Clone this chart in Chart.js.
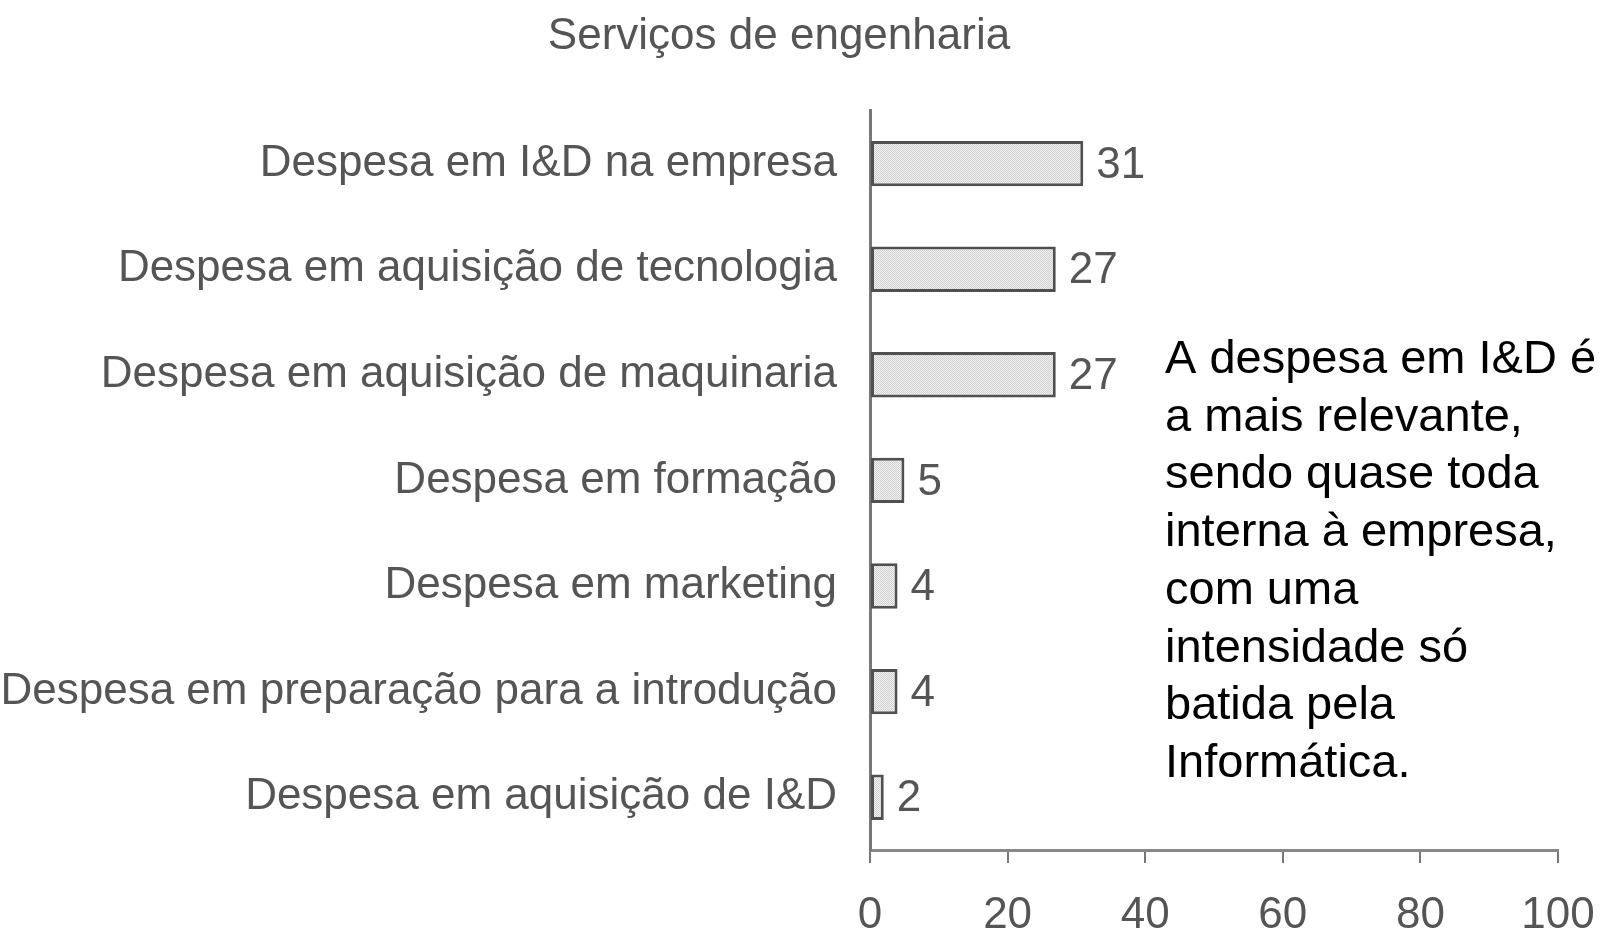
<!DOCTYPE html>
<html>
<head>
<meta charset="utf-8">
<script src="https://cdn.jsdelivr.net/npm/chart.js@4"></script>
<style>
  html, body { margin: 0; padding: 0; background: #fff; }
  #wrap { width: 1614px; height: 933px; }
</style>
</head>
<body>
<div id="wrap"><canvas id="servicos"></canvas></div>
<script>
const title = 'Serviços de engenharia';
const categories = [
  'Despesa em I&D na empresa',
  'Despesa em aquisição de tecnologia',
  'Despesa em aquisição de maquinaria',
  'Despesa em formação',
  'Despesa em marketing',
  'Despesa em preparação para a introdução',
  'Despesa em aquisição de I&D'
];
const values = [31, 27, 27, 5, 4, 4, 2];
const xTicks = [0, 20, 40, 60, 80, 100];
const note = [
  'A despesa em I&D é',
  'a mais relevante,',
  'sendo quase toda',
  'interna à empresa,',
  'com uma',
  'intensidade só',
  'batida pela',
  'Informática.'
];

const grey = '#555';
const font = 'Liberation Sans, Arial, sans-serif';

// dotted fill like the printed bars
function dotPattern() {
  const c = document.createElement('canvas');
  c.width = 2; c.height = 2;
  const g = c.getContext('2d');
  g.fillStyle = '#efefef'; g.fillRect(0, 0, 2, 2);
  g.fillStyle = '#d2d2d2'; g.fillRect(0, 0, 1, 1); g.fillRect(1, 1, 1, 1);
  return g.createPattern(c, 'repeat');
}

const valueLabels = {
  id: 'valueLabels',
  afterDatasetsDraw(chart) {
    const ctx = chart.ctx;
    const meta = chart.getDatasetMeta(0);
    ctx.save();
    ctx.font = '44px ' + font;
    ctx.fillStyle = grey;
    ctx.textAlign = 'left';
    ctx.textBaseline = 'middle';
    meta.data.forEach((bar, i) => {
      ctx.fillText(String(values[i]), bar.x + 13, bar.y + 2);
    });
    ctx.restore();
  }
};

const noteText = {
  id: 'noteText',
  afterDraw(chart) {
    const ctx = chart.ctx;
    ctx.save();
    ctx.font = '47px ' + font;
    ctx.fillStyle = '#000';
    ctx.textAlign = 'left';
    ctx.textBaseline = 'alphabetic';
    note.forEach((line, i) => ctx.fillText(line, 1165, 373 + i * 57.7));
    ctx.restore();
  }
};

new Chart(document.getElementById('servicos'), {
  type: 'bar',
  data: {
    labels: categories,
    datasets: [{
      data: values,
      backgroundColor: dotPattern(),
      borderColor: '#505050',
      borderWidth: 3,
      borderSkipped: false,
      categoryPercentage: 1,
      barPercentage: 0.43
    }]
  },
  options: {
    indexAxis: 'y',
    responsive: true,
    maintainAspectRatio: false,
    animation: false,
    layout: { padding: { left: 0, right: 56, top: 0, bottom: 0 } },
    plugins: {
      legend: { display: false },
      tooltip: { enabled: false },
      title: {
        display: true,
        text: title,
        color: grey,
        font: { family: font, size: 44, weight: 'normal' },
        padding: { top: 10, bottom: 48 }
      }
    },
    scales: {
      x: {
        min: 0,
        max: 100,
        afterBuildTicks(axis) { axis.ticks = xTicks.map(v => ({ value: v })); },
        afterFit(axis) {
          axis.height = 83;
          axis.paddingLeft = 0;
          axis.paddingRight = 0;
        },
        grid: {
          drawOnChartArea: false,
          drawTicks: true,
          tickLength: 13,
          color: '#777',
          lineWidth: 2
        },
        border: { display: true, color: '#888', width: 3 },
        ticks: {
          color: grey,
          padding: 26,
          maxRotation: 0,
          font: { family: font, size: 44 }
        }
      },
      y: {
        afterFit(axis) { axis.width = 870; },
        grid: { display: false, drawTicks: false, tickLength: 0 },
        border: { display: true, color: '#777', width: 3 },
        ticks: {
          color: grey,
          padding: 33,
          font: { family: font, size: 44 }
        }
      }
    }
  },
  plugins: [valueLabels, noteText]
});
</script>
</body>
</html>
